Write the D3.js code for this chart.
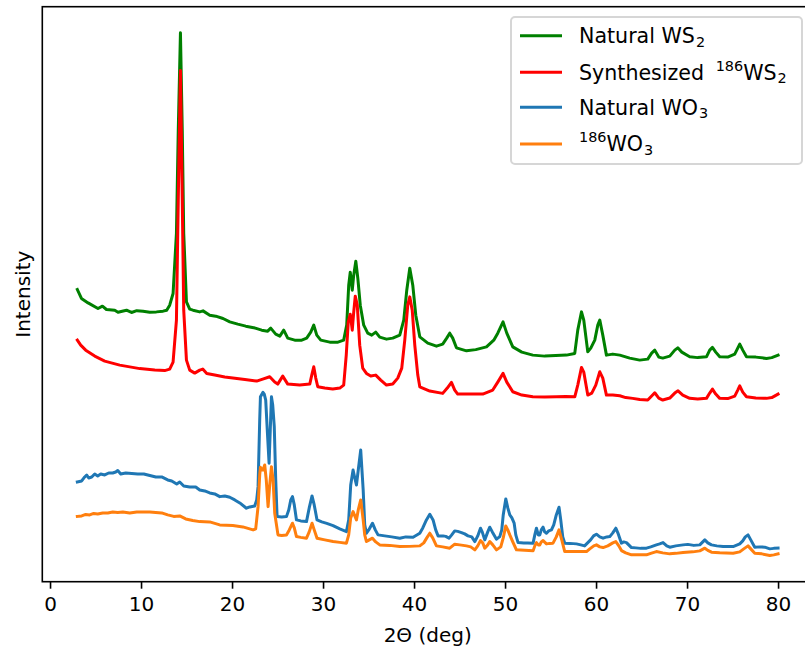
<!DOCTYPE html>
<html>
<head>
<meta charset="utf-8">
<script src="https://cdn.jsdelivr.net/npm/d3@7"></script>
<style>
  body { margin: 0; background: #fff; }
  svg { display: block; font-family: "DejaVu Sans", sans-serif; }
</style>
</head>
<body>
<svg id="chart" width="805" height="649"></svg>
<script>
// XRD patterns: [2θ (deg), intensity (a.u., stacked offsets)]
const naturalWS2 = [
  [3.00,310.7],[3.45,301.7],[4.18,297.3],[5.27,291.7],[5.76,294],[6.20,290.7],[7.11,290],[7.47,288],
  [8.40,290],[8.95,287.7],[9.53,289.5],[10.22,289],[10.96,288],[11.69,288.3],[12.42,289],[12.82,290],
  [13.15,295],[13.52,306.7],[13.89,367],[14.09,470],[14.33,567.7],[14.53,470],[14.69,367],[14.99,298.3],
  [15.35,291],[15.71,290],[16.45,288.3],[16.81,289.3],[17.55,285],[18.21,284],[19.01,281.7],[19.75,278.3],
  [20.63,276],[21.51,274],[22.38,272.5],[23.26,270],[23.92,269],[24.25,272],[24.80,266],[25.25,264],
  [25.68,270],[26.12,262],[26.89,260],[27.66,260],[28.20,262],[28.65,268],[28.98,275],[29.31,265],
  [29.75,260],[30.74,258],[31.64,258],[32.27,260],[32.60,275],[32.82,315],[32.99,328],[33.21,310],
  [33.37,325],[33.60,339],[33.82,322],[34.09,295],[34.47,275],[34.91,267],[35.35,265],[35.79,268],
  [36.23,263],[36.97,261],[37.66,262],[38.43,265],[38.87,280],[39.20,310],[39.53,332],[39.86,315],
  [40.19,285],[40.63,263.3],[41.51,257],[42.46,254],[43.15,256],[43.59,262],[43.92,267],[44.25,262],
  [44.66,252.3],[45.76,249.3],[46.78,250.5],[47.96,253.3],[48.76,260],[49.20,267],[49.78,278.3],[50.19,267],
  [50.85,253.3],[51.84,248],[53.05,245],[54.36,244],[55.57,244.5],[56.75,245],[57.66,246.7],[57.99,270],
  [58.40,288.3],[58.65,280],[59.09,248.3],[59.42,252],[59.86,260],[60.19,275],[60.41,280],[60.74,265],
  [61.14,245],[61.84,246],[62.61,245],[63.70,242],[64.80,240],[65.68,241],[66.11,247],[66.45,250],
  [66.89,243],[67.33,242],[68.10,244],[68.65,250],[68.98,252.3],[69.42,248],[70.29,243.3],[71.17,242.5],
  [72.13,243.3],[72.49,250],[72.79,252.7],[73.15,248],[73.59,243.3],[74.47,243],[75.24,246],[75.57,252],
  [75.79,256],[76.12,250],[76.53,243.3],[77.55,243],[78.73,241.7],[79.31,242.5],[80.00,245]
];

const synthWS2 = [
  [3.00,260],[3.37,255],[3.92,250],[4.91,244],[6.01,239],[7.66,235],[9.86,231.5],[11.51,230],
  [12.60,229.5],[13.15,231],[13.52,238],[13.89,280],[14.09,400],[14.33,530],[14.53,400],[14.69,290],
  [14.99,240],[15.35,230],[15.90,227],[16.45,230],[16.78,231],[17.22,226.5],[18.10,225],[19.20,223],
  [20.09,222],[21.41,220.5],[22.71,219],[23.37,221],[24.14,223.3],[24.69,218],[25.02,216],[25.57,224],
  [26.12,216],[27.44,215],[28.54,216],[28.76,225],[28.98,233.3],[29.20,222],[29.42,213.3],[30.19,212],
  [31.07,211],[31.84,212],[32.27,215],[32.55,245],[32.77,278],[32.99,286],[33.21,270],[33.37,288],
  [33.54,304],[33.76,295],[34.03,255],[34.36,232],[34.77,226.7],[35.24,224],[35.79,225],[36.34,220],
  [36.97,215],[37.66,216],[38.21,222],[38.65,232],[38.98,260],[39.31,295],[39.53,303.3],[39.80,290],
  [40.08,255],[40.41,225],[40.63,213.3],[41.73,209],[43.15,206.7],[43.65,212],[44.11,217.7],[44.47,210],
  [44.80,206],[46.12,206],[47.55,206],[48.65,210],[49.20,218],[49.78,226.7],[50.19,218],[50.85,208.3],
  [51.84,205],[53.05,203.3],[54.36,203],[55.65,203.3],[56.67,203.5],[57.66,203.3],[57.99,215],[58.40,232.7],
  [58.65,228],[59.09,205],[59.53,207],[59.97,215],[60.41,228.3],[60.74,222],[61.14,205],[61.84,205],
  [62.61,204.3],[63.26,202.5],[64.03,201.7],[64.80,200.5],[65.68,200],[66.11,204],[66.45,207.3],[66.89,202],
  [67.33,200],[68.10,202],[68.65,207],[69.01,209.3],[69.53,205],[70.29,201.7],[71.17,201],[72.13,201.7],
  [72.49,207],[72.79,211],[73.15,206],[73.59,201.7],[74.47,201.5],[75.24,204],[75.57,210],[75.79,214.3],
  [76.12,208],[76.53,203.3],[77.55,202],[78.73,201.7],[79.31,202.5],[80.00,206]
];

const naturalWO3 = [
  [3.00,118],[3.48,119],[3.81,123],[4.03,125],[4.25,122],[4.58,123],[4.91,126],[5.24,124],
  [5.57,126],[6.01,125],[6.45,127],[6.89,127],[7.22,128],[7.44,129.5],[7.77,126],[8.32,127],
  [8.98,126.5],[9.64,126],[10.30,126],[10.96,124.5],[11.62,123],[12.27,123],[12.93,120],[13.37,119],
  [13.92,116],[14.25,118],[14.69,114],[15.35,113],[16.01,113],[16.45,110],[17.00,109],[17.55,107],
  [18.10,106],[18.65,103.3],[19.20,104],[19.75,102.7],[20.30,100],[20.85,97],[21.58,91.7],[21.95,93],
  [22.49,94],[22.71,100],[22.86,113.3],[23.04,180],[23.12,203.3],[23.40,207.7],[23.54,206],[23.70,200],
  [23.87,170],[24.07,136.7],[24.20,170],[24.33,203.3],[24.47,195],[24.64,173.3],[24.80,120],[24.95,83.3],
  [25.46,83],[25.98,83.3],[26.23,90],[26.45,100],[26.64,103.3],[26.84,95],[27.08,80],[27.55,79],
  [28.18,78.3],[28.48,92],[28.79,104],[29.03,95],[29.34,80],[29.86,78],[30.41,76.5],[31.10,74.3],
  [31.84,71],[32.57,68.3],[32.82,80],[33.04,115],[33.30,130],[33.49,122],[33.67,115],[33.87,130],
  [34.14,150],[34.41,110],[34.58,75],[34.77,66.7],[35.02,70],[35.43,76.7],[35.74,70],[36.04,65],
  [36.78,64],[37.55,63],[38.43,61.7],[39.09,63],[39.89,62.7],[40.63,66.7],[40.96,72],[41.36,80],
  [41.73,85.7],[42.09,80],[42.38,70],[42.64,64],[43.19,64],[43.48,63.5],[43.85,61.7],[44.14,65],
  [44.47,69],[44.80,68.5],[45.21,67.3],[45.57,66],[45.93,64],[46.34,63],[46.68,58.3],[47.00,64],
  [47.30,71.7],[47.49,68],[47.77,60],[48.10,68],[48.32,72.7],[48.60,68],[49.06,60.7],[49.42,63.3],
  [49.64,70],[49.80,85],[50.08,101],[50.30,92],[50.52,85],[50.75,82],[51.00,76.7],[51.18,65],
  [51.43,57.3],[52.06,57],[52.50,57],[53.08,56.7],[53.27,65],[53.45,71.7],[53.65,65],[53.82,65],
  [53.98,70],[54.18,72.7],[54.36,68],[54.55,66.7],[54.80,69],[55.10,70],[55.35,75],[55.63,85],
  [55.93,92.7],[56.12,80],[56.34,63],[56.56,56.7],[57.11,56.5],[57.85,56],[58.32,55],[58.74,54],
  [59.07,57],[59.40,60],[59.73,64],[60.04,65.7],[60.41,63],[60.77,61.7],[61.18,63],[61.51,63.3],
  [61.84,67],[62.17,71.7],[62.44,66],[62.79,56.7],[63.04,58],[63.34,57.3],[63.59,55],[63.89,52.3],
  [64.37,52],[64.91,51.5],[65.54,51.7],[66.01,53],[66.63,55],[66.99,56],[67.36,57.3],[67.77,54],
  [68.10,52.7],[68.76,54],[69.56,55],[70.08,55.5],[70.74,54.5],[71.40,55],[71.73,58],[71.95,60],
  [72.28,57],[72.68,55],[73.27,54],[73.96,53.3],[74.47,53.5],[75.06,53.3],[75.79,56],[76.12,59],
  [76.40,63],[76.70,65],[77.00,60],[77.44,52.7],[77.99,53],[78.54,52.7],[79.09,51],[79.53,51.5],
  [80.00,51.7]
];

const enrichedWO3 = [
  [3.00,83.5],[3.48,84],[3.92,85.5],[4.36,85],[4.80,86.5],[5.24,86],[5.79,87],[6.35,87],
  [6.89,88],[7.44,87.5],[8.00,88],[8.76,87],[9.53,88],[10.30,88],[10.96,88],[11.62,87.5],
  [12.27,87],[12.93,85],[13.59,83.5],[14.25,84],[14.91,81],[15.68,79.5],[16.45,78.3],[17.55,78],
  [18.65,75],[20.09,74.3],[21.19,73],[22.31,70],[22.60,71],[22.86,93.3],[23.04,125],[23.12,132.7],
  [23.26,130],[23.40,130],[23.59,135],[23.76,120],[23.96,93.3],[24.14,115],[24.33,133.3],[24.51,120],
  [24.69,86.7],[25.05,65],[25.46,64.5],[25.98,65],[26.29,70],[26.64,76.7],[26.84,72],[27.08,63.3],
  [27.55,62.5],[28.18,61.7],[28.48,68],[28.79,76.7],[29.03,70],[29.34,61.7],[30.19,60],[31.10,58.3],
  [31.84,57.5],[32.57,56.7],[32.82,65],[33.04,82],[33.30,88.3],[33.49,84],[33.67,80],[33.87,90],
  [34.14,100],[34.41,80],[34.58,65],[34.77,58.3],[35.08,60],[35.43,61.7],[35.79,58],[36.23,55],
  [37.33,54.5],[38.43,53.3],[39.53,53.5],[40.63,54],[41.07,57],[41.40,62],[41.73,66.7],[42.05,62],
  [42.46,54],[43.15,53],[43.92,51.7],[44.47,55.7],[45.02,55],[45.76,54],[46.23,53],[46.68,50],
  [47.00,54],[47.30,59.3],[47.55,57],[47.77,51.7],[48.10,55],[48.32,58.3],[48.65,55],[49.06,50],
  [49.53,53],[49.80,62],[50.08,74],[50.30,70],[50.52,65],[50.85,58],[51.25,50],[52.16,49.5],
  [53.08,49],[53.27,54],[53.45,57.3],[53.65,55],[53.82,55],[53.98,58],[54.18,59.3],[54.55,56],
  [54.91,56.5],[55.27,56.7],[55.63,63],[55.93,70],[56.23,60],[56.56,48.3],[57.66,48.3],[58.95,48.3],
  [59.31,51],[59.75,54],[60.04,55],[60.41,53],[60.77,52.3],[61.29,54],[61.84,57],[62.17,58.3],
  [62.50,54],[62.79,49.3],[63.26,47],[63.89,45],[64.69,45],[65.54,45],[66.01,46.5],[66.63,48.3],
  [67.33,47],[68.10,46],[68.76,46.5],[69.56,47.3],[70.63,48],[71.40,49],[71.95,51.7],[72.28,49.5],
  [72.68,47.7],[73.59,47],[75.06,46.7],[75.79,48],[76.23,51],[76.70,54],[77.00,51],[77.44,46.7],
  [78.21,46],[79.09,44.3],[79.53,45],[80.00,46]
];

const xTicks = [0, 10, 20, 30, 40, 50, 60, 70, 80];
const seriesData = [naturalWS2, synthWS2, naturalWO3, enrichedWO3];
const seriesColors = ["#008000", "#ff0000", "#1f77b4", "#ff7f0e"];
// legend labels as runs of text: "sub" / "sup" mark sub- and superscripts
const seriesLabels = [
  [["Natural WS", ""], ["2", "sub"]],
  [["Synthesized ", ""], ["186", "sup"], ["WS", ""], ["2", "sub"]],
  [["Natural WO", ""], ["3", "sub"]],
  [["186", "sup"], ["WO", ""], ["3", "sub"]]
];

const svg = d3.select("#chart");
const FONT = 20;
const LEGEND_FONT = 20.6;
const box = { left: 42.3, right: 813.1, top: 6.7, bottom: 581.7 };

// autoscale with 5% margins on both axes
const all = seriesData.flat();
const xe = d3.extent(all, d => d[0]);
const ye = d3.extent(all, d => d[1]);
const xm = (xe[1] - xe[0]) * 0.05, ym = (ye[1] - ye[0]) * 0.05;
const x = d3.scaleLinear().domain([xe[0] - xm, xe[1] + xm]).range([box.left, box.right]);
const y = d3.scaleLinear().domain([ye[0] - ym, ye[1] + ym]).range([box.bottom, box.top]);

// traces
const line = d3.line().x(d => x(d[0])).y(d => y(d[1]));
svg.append("g").selectAll("path")
  .data(seriesData)
  .join("path")
  .attr("d", line)
  .attr("fill", "none")
  .attr("stroke", (d, i) => seriesColors[i])
  .attr("stroke-width", 3)
  .attr("stroke-linejoin", "round")
  .attr("stroke-linecap", "square");

// x axis
const xAxis = svg.append("g")
  .attr("transform", `translate(0,${box.bottom})`)
  .call(d3.axisBottom(x).tickValues(xTicks).tickSize(7).tickPadding(8.5).tickFormat(d3.format("d")));
xAxis.select(".domain").remove();
xAxis.selectAll(".tick line").attr("stroke", "#000").attr("stroke-width", 1.6);
xAxis.selectAll(".tick text").attr("font-size", FONT).attr("font-family", "DejaVu Sans").attr("fill", "#000");

// frame
svg.append("rect")
  .attr("x", box.left).attr("y", box.top)
  .attr("width", box.right - box.left).attr("height", box.bottom - box.top)
  .attr("fill", "none").attr("stroke", "#000").attr("stroke-width", 1.6);

// axis titles
svg.append("text")
  .attr("x", (box.left + box.right) / 2).attr("y", 642)
  .attr("text-anchor", "middle").attr("font-size", FONT)
  .text("2Θ (deg)");
svg.append("text")
  .attr("transform", `translate(30,${(box.top + box.bottom) / 2}) rotate(-90)`)
  .attr("text-anchor", "middle").attr("font-size", FONT)
  .text("Intensity");

// legend
const lg = svg.append("g");
lg.append("rect")
  .attr("x", 511).attr("y", 17).attr("width", 291).attr("height", 147)
  .attr("rx", 4).attr("ry", 4)
  .attr("fill", "#fff").attr("fill-opacity", 0.8)
  .attr("stroke", "#d6d6d6").attr("stroke-width", 2);
const rowY = [35.7, 72.3, 107.3, 144];
seriesLabels.forEach((runs, i) => {
  lg.append("line")
    .attr("x1", 520).attr("x2", 562)
    .attr("y1", rowY[i]).attr("y2", rowY[i])
    .attr("stroke", seriesColors[i]).attr("stroke-width", 3);
  const t = lg.append("text")
    .attr("x", 579).attr("y", rowY[i] + 7.3)
    .attr("font-size", LEGEND_FONT).attr("fill", "#000");
  let shift = 0;
  runs.forEach(([txt, kind], j) => {
    const target = kind === "sub" ? 3.8 : kind === "sup" ? -9 : 0;
    t.append("tspan")
      .attr("dy", target - shift)
      .attr("dx", kind === "sup" && j > 0 ? 5 : (kind === "sub" ? 1 : 0))
      .attr("font-size", kind ? LEGEND_FONT * 0.7 : LEGEND_FONT)
      .text(txt);
    shift = target;
  });
});
</script>
</body>
</html>
